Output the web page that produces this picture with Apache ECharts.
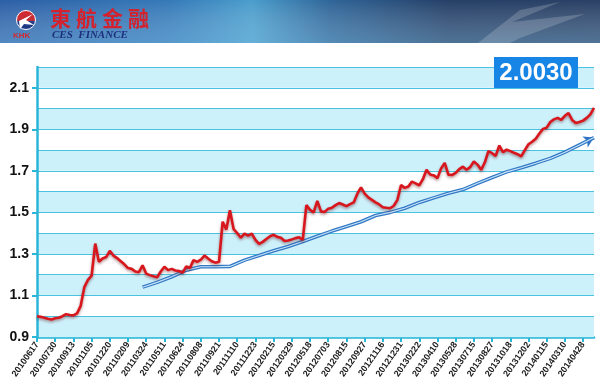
<!DOCTYPE html>
<html><head><meta charset="utf-8">
<script src="https://cdn.jsdelivr.net/npm/echarts@6/dist/echarts.min.js"></script>
<style>html,body{margin:0;padding:0;background:#fff}#c{width:600px;height:390px}</style>
</head><body><div id="c"></div>
<script>
const tickDates = ['20100617','20100730','20100913','20101105','20101220','20110209','20110324','20110511','20110624','20110808','20110921','20111110','20111223','20120215','20120329','20120518','20120703','20120815','20120927','20121116','20121231','20130222','20130410','20130528','20130715','20130827','20131018','20131202','20140115','20140310','20140428'];
const yLabels = [0.9, 1.1, 1.3, 1.5, 1.7, 1.9, 2.1];
const redStep = 0.2; // in tick-label intervals
const redValues = [
1.000,0.997,0.993,0.988,0.984,0.990,0.993,1.000,1.010,1.006,
1.004,1.014,1.050,1.140,1.175,1.195,1.350,1.262,1.278,1.285,
1.315,1.292,1.280,1.265,1.250,1.232,1.228,1.215,1.212,1.245,
1.205,1.198,1.192,1.188,1.215,1.238,1.222,1.228,1.220,1.218,
1.210,1.240,1.232,1.270,1.262,1.272,1.292,1.278,1.265,1.258,
1.262,1.455,1.418,1.510,1.420,1.400,1.378,1.398,1.388,1.398,
1.368,1.348,1.358,1.372,1.385,1.392,1.382,1.378,1.362,1.365,
1.370,1.376,1.380,1.368,1.535,1.512,1.500,1.555,1.505,1.502,
1.518,1.522,1.535,1.545,1.538,1.530,1.540,1.548,1.590,1.620,
1.590,1.572,1.560,1.548,1.538,1.525,1.522,1.520,1.532,1.560,
1.632,1.618,1.625,1.648,1.640,1.630,1.660,1.705,1.682,1.678,
1.665,1.712,1.738,1.682,1.680,1.690,1.708,1.720,1.705,1.718,
1.745,1.730,1.705,1.740,1.795,1.785,1.772,1.822,1.790,1.802,
1.795,1.787,1.780,1.770,1.800,1.828,1.840,1.855,1.880,1.902,
1.908,1.935,1.948,1.955,1.945,1.965,1.978,1.945,1.930,1.935,
1.942,1.955,1.972,2.003];
const blueStart = 5.8, blueStep = 0.8;
const blueValues = [1.140,1.163,1.190,1.222,1.238,1.238,1.240,1.270,1.292,1.315,
1.336,1.360,1.385,1.410,1.432,1.455,1.485,1.500,1.520,1.548,
1.570,1.592,1.610,1.640,1.668,1.695,1.715,1.737,1.760,1.790,
1.825,1.860];
const lastValue = '2.0030';

const redData = redValues.map((v, i) => [+(i * redStep).toFixed(2), v]);
const blueData = blueValues.map((v, i) => [+(blueStart + i * blueStep).toFixed(2), v]);
const blueOuter = blueData.map((d, i) => i === blueData.length - 1
  ? { value: d, symbol: 'arrow', symbolSize: [9, 10], symbolRotate: -64, itemStyle: { color: '#2f74c4' } }
  : d);
const tickIdx = tickDates.map((d, i) => i);

const chart = echarts.init(document.getElementById('c'), null, { renderer: 'canvas' });
const cyan = '#2bb6d8';
chart.setOption({
  animation: false,
  backgroundColor: '#ffffff',
  grid: { left: 37, right: 6, top: 67, bottom: 53, containLabel: false, outerBoundsMode: 'none' },
  xAxis: {
    type: 'value', min: 0, max: 30.6,
    axisLine: { show: true, lineStyle: { color: cyan, width: 2.5 } },
    axisTick: { show: true, customValues: tickIdx, length: 5, lineStyle: { color: cyan, width: 2 } },
    axisLabel: { customValues: tickIdx, rotate: 55, margin: 6, fontSize: 9, fontWeight: 'bold', color: '#1a1a1a', fontFamily: 'Liberation Sans, Arial',
      formatter: v => tickDates[Math.round(v)] || '' },
    splitLine: { show: false }
  },
  yAxis: [{
    type: 'value', min: 0.9, max: 2.2, interval: 0.1, position: 'left', z: 3,
    axisLine: { show: true, lineStyle: { color: cyan, width: 2.5 } },
    axisTick: { show: true, customValues: yLabels, length: 5, lineStyle: { color: cyan, width: 2 } },
    axisLabel: { customValues: yLabels, margin: 8, fontSize: 14, fontWeight: 'bold', color: '#111', fontFamily: 'Liberation Sans, Arial',
      formatter: v => v.toFixed(1) },
    splitLine: { show: false },
    splitArea: { show: false }
  }, {
    type: 'value', min: 0.9, max: 2.2, interval: 0.1, position: 'left', offset: 0, z: 1,
    axisLine: { show: false }, axisTick: { show: false }, axisLabel: { show: false },
    splitLine: { show: true, lineStyle: { color: '#4cc3de', width: 1.2 } },
    splitArea: { show: true, areaStyle: { color: ['#cdf1fb', '#ffffff'] } }
  }],
  series: [
    { type: 'line', data: blueOuter, symbol: 'none', showSymbol: true, z: 3,
      lineStyle: { color: '#3479c6', width: 3.6 }, silent: true },
    { type: 'line', data: blueData, symbol: 'none', z: 4,
      lineStyle: { color: '#c9e6f8', width: 1.1 }, silent: true },
    { type: 'line', data: redData, symbol: 'none', z: 5,
      lineStyle: { color: '#d8161d', width: 2.6, shadowColor: 'rgba(90,0,0,0.45)', shadowBlur: 3, shadowOffsetY: 1.5 }, silent: true }
  ],
  graphic: [
    { type: 'rect', z: 100, shape: { x: 0, y: 0, width: 600, height: 43 },
      style: { fill: new echarts.graphic.LinearGradient(0, 0, 1, 0, [
        { offset: 0, color: '#2c5fa6' }, { offset: 0.28, color: '#3579b8' }, { offset: 0.42, color: '#4a9dcc' },
        { offset: 0.55, color: '#2f6598' }, { offset: 0.75, color: '#253f66' }, { offset: 1, color: '#2a4166' }]) } },
    { type: 'rect', z: 101, shape: { x: 0, y: 0, width: 600, height: 43 },
      style: { fill: new echarts.graphic.LinearGradient(0, 0, 0, 1, [
        { offset: 0, color: 'rgba(255,255,255,0)' }, { offset: 1, color: 'rgba(150,210,240,0.35)' }]) } },
    { type: 'polygon', z: 102, shape: { points: [[478, 43], [520, 10], [560, 2], [512, 22], [585, 14], [520, 38], [510, 43]] },
      style: { fill: 'rgba(255,255,255,0.18)' } },
    { type: 'circle', z: 103, shape: { cx: 26, cy: 20, r: 9.5 },
      style: { fill: new echarts.graphic.LinearGradient(0, 0, 0, 1, [
        { offset: 0, color: '#d8262e' }, { offset: 0.55, color: '#c0303a' }, { offset: 0.56, color: '#223f8e' }, { offset: 1, color: '#1b3480' }]), stroke: '#ffffff', lineWidth: 1 } },
    { type: 'polygon', z: 104, shape: { points: [[19, 21], [33, 14], [26, 20], [34, 25], [24, 24], [20, 29]] },
      style: { fill: '#ffffff' } },
    { type: 'text', z: 104, style: { x: 13, y: 32, text: 'KHK', fontSize: 8, fontWeight: 'bold', fill: '#d02a35', fontFamily: 'Liberation Sans, Arial' } },
    { type: 'text', z: 104, style: { x: 50, y: 8, text: '東', fontSize: 21, fontWeight: 'bold', fill: '#d3222d', fontFamily: 'Noto Sans CJK TC' } },
    { type: 'text', z: 104, style: { x: 76, y: 8, text: '航', fontSize: 21, fontWeight: 'bold', fill: '#d3222d', fontFamily: 'Noto Sans CJK TC' } },
    { type: 'text', z: 104, style: { x: 102, y: 8, text: '金', fontSize: 21, fontWeight: 'bold', fill: '#d3222d', fontFamily: 'Noto Sans CJK TC' } },
    { type: 'text', z: 104, style: { x: 128, y: 8, text: '融', fontSize: 21, fontWeight: 'bold', fill: '#d3222d', fontFamily: 'Noto Sans CJK TC' } },
    { type: 'text', z: 104, style: { x: 52, y: 30, text: 'CES  FINANCE', fontSize: 11, fontStyle: 'italic', fontWeight: 'bold', fill: '#1d2f7c', fontFamily: 'Liberation Serif, serif' } },
    { type: 'rect', z: 110, shape: { x: 494, y: 57, width: 84, height: 31 }, style: { fill: '#1785e6' } },
    { type: 'text', z: 111, style: { x: 536, y: 73, text: lastValue, align: 'center', verticalAlign: 'middle', fontSize: 24, fontWeight: 'bold', fill: '#ffffff', fontFamily: 'Liberation Sans, Arial' } }
  ]
});
</script></body></html>
